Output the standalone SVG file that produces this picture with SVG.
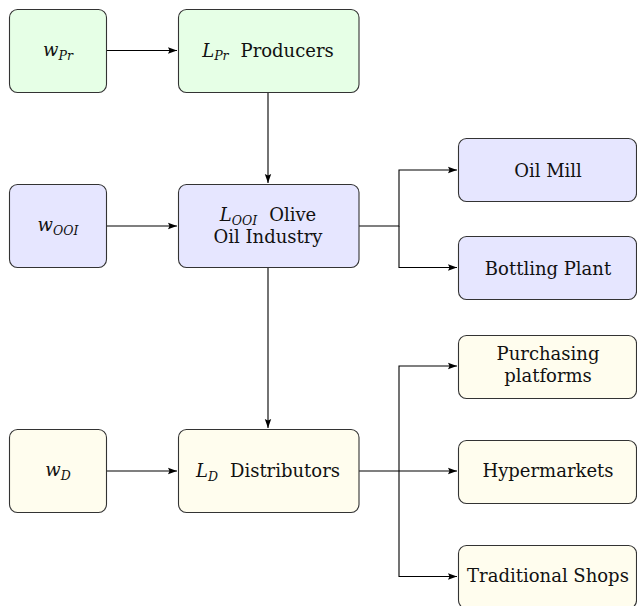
<svg xmlns="http://www.w3.org/2000/svg" width="637" height="606" viewBox="0 0 637 606">
<defs>
<marker id="ah" markerWidth="10" markerHeight="8" refX="9" refY="4" orient="auto" markerUnits="userSpaceOnUse">
<path d="M0,0.8 L9,4 L0,7.2 L1.5,4 Z" fill="#000"/>
</marker>
<style>
.box{stroke:#333;stroke-width:1.1}
.g{fill:#e6ffe6}.b{fill:#e6e6ff}.y{fill:#fffdee}
text{font-family:"DejaVu Serif","Liberation Serif",serif;font-size:18px;fill:#111;text-anchor:middle}
.it{font-style:italic}
.sub{font-style:italic;font-size:12.5px}
.c{fill:none;stroke:#000;stroke-width:1.1}
</style>
</defs>
<g id="connectors">
<path class="c" d="M106.5,50.5 H177" marker-end="url(#ah)"/>
<path class="c" d="M106.5,226 H177" marker-end="url(#ah)"/>
<path class="c" d="M106.5,471 H177" marker-end="url(#ah)"/>
<path class="c" d="M268,92.5 V183" marker-end="url(#ah)"/>
<path class="c" d="M268,268 V428" marker-end="url(#ah)"/>
<path class="c" d="M359,226 H399 V170 H457" marker-end="url(#ah)"/>
<path class="c" d="M399,226 V267.5 H457" marker-end="url(#ah)"/>
<path class="c" d="M359,471 H457" marker-end="url(#ah)"/>
<path class="c" d="M399,471 V366 H457" marker-end="url(#ah)"/>
<path class="c" d="M399,471 V576.5 H457" marker-end="url(#ah)"/>
</g>
<g id="wPr">
<rect class="box g" x="9.5" y="9.5" width="97" height="83" rx="8"/>
<text x="58" y="56"><tspan class="it">w</tspan><tspan class="sub" dy="3.5">Pr</tspan></text>
</g>
<g id="LPr">
<rect class="box g" x="178.5" y="9.5" width="180.5" height="83" rx="8"/>
<text x="268" y="56.5"><tspan class="it">L</tspan><tspan class="sub" dy="3.5">Pr</tspan><tspan dy="-3.5" dx="12">Producers</tspan></text>
</g>
<g id="wOOI">
<rect class="box b" x="9.5" y="184.5" width="97" height="83" rx="8"/>
<text x="58" y="231"><tspan class="it">w</tspan><tspan class="sub" dy="3.5">OOI</tspan></text>
</g>
<g id="LOOI">
<rect class="box b" x="178.5" y="184.5" width="180.5" height="83" rx="8"/>
<text x="268" y="221"><tspan class="it">L</tspan><tspan class="sub" dy="3.5">OOI</tspan><tspan dy="-3.5" dx="12">Olive</tspan></text>
<text x="268" y="243">Oil Industry</text>
</g>
<g id="wD">
<rect class="box y" x="9.5" y="429.5" width="97" height="83" rx="8"/>
<text x="58" y="476"><tspan class="it">w</tspan><tspan class="sub" dy="3.5">D</tspan></text>
</g>
<g id="LD">
<rect class="box y" x="178.5" y="429.5" width="180.5" height="83" rx="8"/>
<text x="268" y="477"><tspan class="it">L</tspan><tspan class="sub" dy="3.5">D</tspan><tspan dy="-3.5" dx="12">Distributors</tspan></text>
</g>
<g id="oilmill">
<rect class="box b" x="458.5" y="138.5" width="178" height="63" rx="8"/>
<text x="548" y="176.5">Oil Mill</text>
</g>
<g id="bottling">
<rect class="box b" x="458.5" y="236.5" width="178" height="63" rx="8"/>
<text x="548" y="274.5">Bottling Plant</text>
</g>
<g id="purchasing">
<rect class="box y" x="458.5" y="335.5" width="178" height="63" rx="8"/>
<text x="548" y="360">Purchasing</text>
<text x="548" y="382">platforms</text>
</g>
<g id="hyper">
<rect class="box y" x="458.5" y="440.5" width="178" height="63" rx="8"/>
<text x="548" y="477">Hypermarkets</text>
</g>
<g id="traditional">
<rect class="box y" x="458.5" y="545.5" width="178" height="63" rx="8"/>
<text x="548" y="582">Traditional Shops</text>
</g>
</svg>
